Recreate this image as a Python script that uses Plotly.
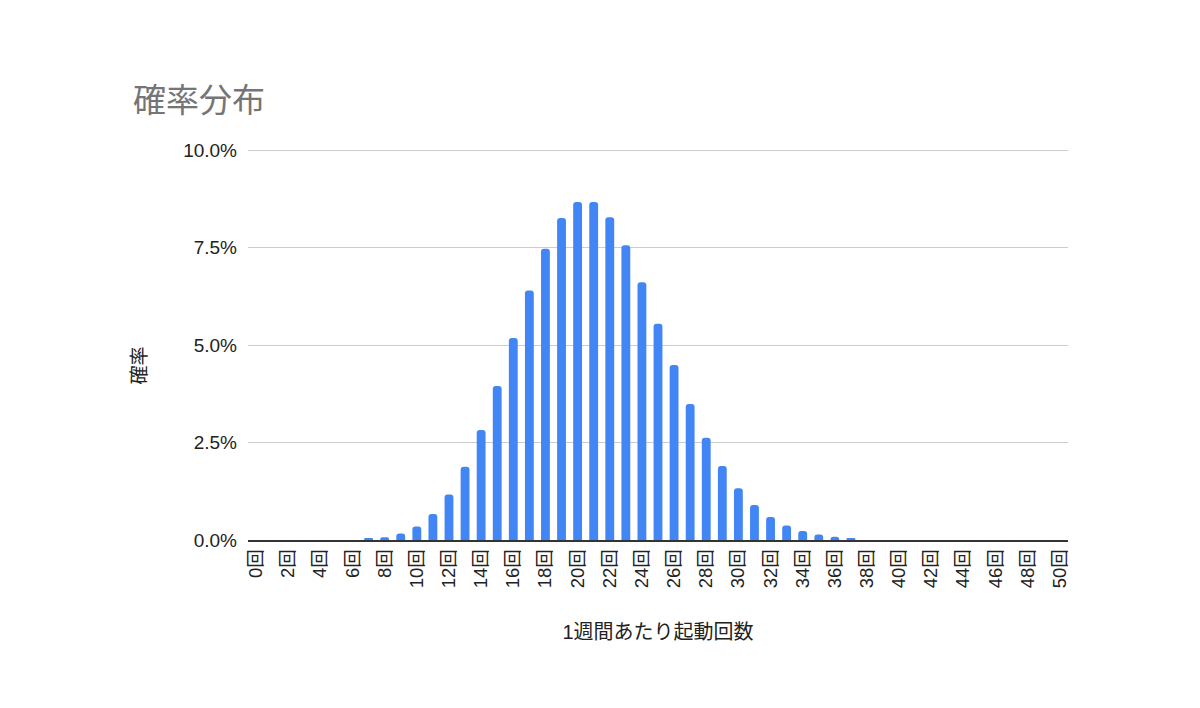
import plotly.graph_objects as go

counts = list(range(0, 51))
labels = [f"{k}回" for k in counts]
probs = [
    0.0, 0.0, 0.0, 0.0, 0.0, 0.0, 0.0, 0.00027, 0.00071, 0.00166,
    0.00348, 0.00665, 0.01164, 0.0188, 0.0282, 0.0395, 0.0518, 0.0640, 0.0747, 0.0826,
    0.0867, 0.0867, 0.0828, 0.0756, 0.0661, 0.0555, 0.0449, 0.0349, 0.0262, 0.0190,
    0.0133, 0.0090, 0.0059, 0.00375, 0.00232, 0.00139, 0.00081, 0.00046, 0.0, 0.0,
    0.0, 0.0, 0.0, 0.0, 0.0, 0.0, 0.0, 0.0, 0.0, 0.0, 0.0,
]
tick_labels = labels[::2]
y_ticks = [0, 0.025, 0.05, 0.075, 0.1]
y_tick_text = ["0.0%", "2.5%", "5.0%", "7.5%", "10.0%"]

JP = "Liberation Sans, Arial, Noto Sans CJK JP, sans-serif"

fig = go.Figure()
fig.add_trace(go.Bar(
    x=labels, y=probs,
    marker=dict(color="#4285f4", cornerradius=3, line=dict(width=0)),
    hovertemplate="%{x}: %{y:.2%}<extra></extra>",
))

fig.update_layout(
    width=1200, height=708,
    paper_bgcolor="white", plot_bgcolor="white",
    margin=dict(l=240, r=140, t=141, b=176),
    bargap=0.45,
    showlegend=False,
    font=dict(family=JP, color="#222222", size=19),
    title=dict(
        text="確率分布", x=125 / 1200, xref="container", xanchor="left", yref="container",
        y=1 - 92 / 708, yanchor="middle",
        font=dict(size=33, color="#757575", family=JP),
    ),
    annotations=[dict(
        text="確率", textangle=-90, showarrow=False,
        xref="paper", yref="paper", x=(140 - 248) / 820, y=(540 - 366) / 390,
        xanchor="center", yanchor="middle",
        font=dict(size=19, color="#222222", family=JP),
    )],
)

fig.update_xaxes(
    type="category",
    categoryorder="array", categoryarray=labels,
    tickmode="array", tickvals=tick_labels, ticktext=tick_labels,
    tickangle=-90,
    showgrid=False, showline=True, linecolor="#333333", linewidth=1.5,
    ticks="", ticklen=0,
    tickfont=dict(size=18.5, color="#222222"),
    title=dict(text="1週間あたり起動回数", standoff=38,
               font=dict(size=20, color="#222222", family=JP)),
    range=[-0.5, 50.5],
)
fig.update_yaxes(
    range=[0, 0.1003],
    tickmode="array", tickvals=y_ticks, ticktext=y_tick_text,
    showgrid=True, gridcolor="#cccccc", gridwidth=1,
    zeroline=False, showline=False, ticks="",
    tickfont=dict(size=19, color="#222222"),
    ticklabelstandoff=10,
)

fig.write_html("out.html")
